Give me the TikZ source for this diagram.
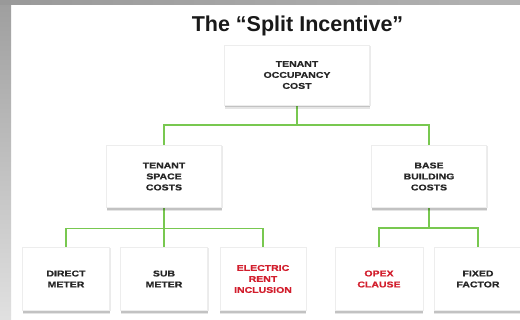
\documentclass[tikz,border=0pt]{standalone}
\usepackage{fontspec}
\setmainfont{Liberation Sans}
\newfontfamily\boxfont[FakeStretch=1.25,FakeBold=0.7]{Liberation Sans}
\usetikzlibrary{shadows}
\pgfdeclarelayer{framelayer}
\pgfdeclarelayer{wirelayer}
\pgfsetlayers{framelayer,wirelayer,main}
\definecolor{linegreen}{RGB}{120,200,80}
\definecolor{redtext}{RGB}{210,30,45}
\tikzset{
  box/.style={rectangle, fill=white, draw=black!7, line width=0.4pt,
    align=center, inner sep=0pt,
    font=\boxfont\bfseries\fontsize{8.4}{11}\selectfont, text=black!85,
    drop shadow={shadow xshift=0pt, shadow yshift=-4pt, opacity=.10, fill=black},
    drop shadow={shadow xshift=0pt, shadow yshift=-2.5pt, opacity=.15, fill=black},
    drop shadow={shadow xshift=1pt, shadow yshift=-1pt, opacity=.08, fill=black}},
  wire/.style={draw=linegreen, line width=1.6pt},
  red/.style={text=redtext}
}
\begin{document}
\begin{tikzpicture}[x=1pt,y=-1pt]
\useasboundingbox (0,0) rectangle (520,320);
% frame
\begin{pgfonlayer}{framelayer}
\fill[white] (0,0) rectangle (520,320);
\shade[top color=black!38, bottom color=black!12] (0,0) rectangle (11,320);
\shade[left color=black!40, right color=black!30] (0,0) rectangle (520,5);
\end{pgfonlayer}
% title
\node[font=\bfseries\fontsize{21.5}{22}\selectfont, text=black!90, anchor=base, inner sep=0pt] (title) at (297.5,31.5) {The “Split Incentive”};
% boxes
\node[box, minimum width=145pt, minimum height=60pt] (top) at (297,75) {TENANT\\OCCUPANCY\\COST};
\node[box, minimum width=115pt, minimum height=62pt] (ml) at (164,176.5) {TENANT\\SPACE\\COSTS};
\node[box, minimum width=115pt, minimum height=62pt] (mr) at (429,176.5) {BASE\\BUILDING\\COSTS};
\node[box, minimum width=87pt, minimum height=63pt] (b1) at (66,279) {DIRECT\\METER};
\node[box, minimum width=87pt, minimum height=63pt] (b2) at (164,279) {SUB\\METER};
\node[box, red, minimum width=86pt, minimum height=63pt] (b3) at (263,279) {ELECTRIC\\RENT\\INCLUSION};
\node[box, red, minimum width=88pt, minimum height=63pt] (b4) at (379,279) {OPEX\\CLAUSE};
\node[box, minimum width=88pt, minimum height=63pt] (b5) at (478,279) {FIXED\\FACTOR};
% connectors
\begin{pgfonlayer}{wirelayer}
\draw[wire] (top.center) -- ++(0,50) -| (ml.center);
\draw[wire] (top.center) -- ++(0,50) -| (mr.center);
\draw[wire] (ml.center) -- ++(0,52) -| (b1.center);
\draw[wire] (ml.center) -- (b2.center);
\draw[wire] (ml.center) -- ++(0,52) -| (b3.center);
\draw[wire] (mr.center) -- ++(0,51.5) -| (b4.center);
\draw[wire] (mr.center) -- ++(0,51.5) -| (b5.center);
\end{pgfonlayer}
\end{tikzpicture}
\end{document}
